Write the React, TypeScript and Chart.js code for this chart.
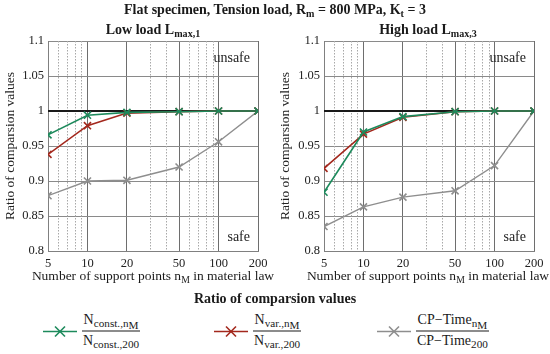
import React, { useEffect, useRef } from "react";
import { Chart, registerables } from "chart.js";

Chart.register(...registerables);

const xValues = [5, 10, 20, 50, 100, 200];
const xMinor = [6, 7, 8, 9, 30, 40, 60, 70, 80, 90];
const yTicks = [0.8, 0.85, 0.9, 0.95, 1, 1.05, 1.1];

const lowConst = [0.966, 0.994, 0.998, 0.999, 1.0, 1.0];
const lowVar = [0.938, 0.979, 0.997, 0.999, 1.0, 1.0];
const lowTime = [0.879, 0.9, 0.901, 0.92, 0.956, 1.0];

const highConst = [0.884, 0.97, 0.992, 0.999, 1.0, 1.0];
const highVar = [0.918, 0.967, 0.991, 0.999, 1.0, 1.0];
const highTime = [0.835, 0.863, 0.877, 0.886, 0.922, 1.0];

const GREEN = "#1d8a5c";
const RED = "#a3281d";
const GRAY = "#8e8e8e";
const FONT = "'Liberation Serif', serif";

const annotPlugin = {
  id: "annot",
  beforeDatasetsDraw(chart: any) {
    const { ctx, chartArea } = chart;
    const xs = chart.scales.x;
    ctx.save();
    ctx.strokeStyle = "#a8a8a8";
    ctx.lineWidth = 1;
    ctx.setLineDash([1.5, 1.5]);
    xMinor.forEach((v) => {
      const px = Math.round(xs.getPixelForValue(v)) + 0.5;
      ctx.beginPath();
      ctx.moveTo(px, chartArea.top);
      ctx.lineTo(px, chartArea.bottom);
      ctx.stroke();
    });
    ctx.setLineDash([]);
    const ys = chart.scales.y;
    const py = ys.getPixelForValue(1);
    ctx.strokeStyle = "#1a1a1a";
    ctx.lineWidth = 2;
    ctx.beginPath();
    ctx.moveTo(chartArea.left, py);
    ctx.lineTo(chartArea.right, py);
    ctx.stroke();
    ctx.restore();
  },
  afterDraw(chart: any) {
    const { ctx, chartArea } = chart;
    ctx.save();
    ctx.fillStyle = "#222";
    ctx.font = "14px " + FONT;
    ctx.textAlign = "right";
    ctx.textBaseline = "middle";
    ctx.fillText("unsafe", chartArea.right - 8, chartArea.top + 17);
    ctx.fillText("safe", chartArea.right - 8, chartArea.bottom - 14);
    ctx.restore();
  },
};

function Panel(props: { left: number; yw: number; data: number[][] }) {
  const ref = useRef<HTMLCanvasElement>(null);
  useEffect(() => {
    const [cData, vData, tData] = props.data;
    const mk = (arr: number[]) => arr.map((y, i) => ({ x: xValues[i], y }));
    const ds = (label: string, arr: number[], color: string, w: number) => ({
      label,
      data: mk(arr),
      borderColor: color,
      backgroundColor: color,
      borderWidth: w,
      pointStyle: "crossRot",
      pointRadius: 5,
      pointBorderWidth: 1.6,
      pointBorderColor: color,
      tension: 0,
      fill: false,
    });
    const chart = new Chart(ref.current as HTMLCanvasElement, {
      type: "line",
      data: {
        datasets: [
          ds("N const", cData, GREEN, 1.6),
          ds("N var", vData, RED, 1.6),
          ds("CP-Time", tData, GRAY, 1.4),
        ],
      },
      plugins: [annotPlugin],
      options: {
        animation: false,
        responsive: false,
        maintainAspectRatio: false,
        layout: { padding: { left: 0, top: 41, right: 275 - 258 - (props.yw - 48), bottom: 0 } },
        plugins: { legend: { display: false }, tooltip: { enabled: false } },
        scales: {
          x: {
            type: "logarithmic",
            min: 5,
            max: 200,
            afterBuildTicks: (s: any) => {
              s.ticks = [...xValues, ...xMinor]
                .sort((a, b) => a - b)
                .map((v) => ({ value: v }));
            },
            afterFit: (s: any) => {
              s.height = 21;
            },
            ticks: {
              autoSkip: false,
              maxRotation: 0,
              padding: 5,
              color: "#222",
              font: { family: FONT, size: 12.5 },
              callback: (v: any) => (xValues.includes(Number(v)) ? String(v) : ""),
            },
            grid: {
              drawTicks: false,
              color: (c: any) =>
                c.tick && xValues.includes(c.tick.value) ? "#6e6e6e" : "rgba(0,0,0,0)",
              lineWidth: 1,
            },
            border: { display: true, color: "#808080" },
          },
          y: {
            min: 0.8,
            max: 1.1,
            afterBuildTicks: (s: any) => {
              s.ticks = yTicks.map((v) => ({ value: v }));
            },
            afterFit: (s: any) => {
              s.width = props.yw;
            },
            title: {
              display: true,
              text: "Ratio of comparsion values",
              color: "#222",
              font: { family: FONT, size: 13.5 },
              padding: { top: 2, bottom: 0 },
            },
            ticks: {
              padding: 4,
              color: "#222",
              font: { family: FONT, size: 12.5 },
              callback: (v: any) => String(Number(Number(v).toFixed(2))),
            },
            grid: { drawTicks: false, color: "#8a8a8a", lineWidth: 1 },
            border: { display: true, color: "#808080" },
          },
        },
      } as any,
    });
    return () => chart.destroy();
  }, []);
  return (
    <canvas
      ref={ref}
      width={275}
      height={272}
      style={{ position: "absolute", left: props.left, top: 0, width: 275, height: 272 }}
    />
  );
}

const txt: React.CSSProperties = {
  position: "absolute",
  whiteSpace: "nowrap",
  transform: "translate(-50%, -50%)",
  fontFamily: FONT,
  color: "#1a1a1a",
  lineHeight: 1,
};
const subS: React.CSSProperties = { fontSize: "0.72em", verticalAlign: "-0.3em", lineHeight: 0 };
const subL: React.CSSProperties = { fontSize: "0.8em", verticalAlign: "-0.3em", lineHeight: 0 };
const subL2: React.CSSProperties = { fontSize: "1em", verticalAlign: "-0.25em", lineHeight: 0 };

function Marker({ color }: { color: string }) {
  return (
    <svg width={34} height={14} style={{ display: "block" }}>
      <line x1={0} y1={7} x2={34} y2={7} stroke={color} strokeWidth={1.6} />
      <line x1={12} y1={2} x2={22} y2={12} stroke={color} strokeWidth={1.6} />
      <line x1={22} y1={2} x2={12} y2={12} stroke={color} strokeWidth={1.6} />
    </svg>
  );
}

function Frac({ num, den }: { num: React.ReactNode; den: React.ReactNode }) {
  return (
    <div style={{ display: "inline-flex", flexDirection: "column", alignItems: "center", fontFamily: FONT, fontSize: 14, color: "#1a1a1a" }}>
      <div style={{ padding: "0 1px 4px 1px", lineHeight: 1 }}>{num}</div>
      <div style={{ alignSelf: "stretch", borderTop: "1px solid #1a1a1a" }} />
      <div style={{ padding: "2px 1px 2px 1px", lineHeight: 1 }}>{den}</div>
    </div>
  );
}

function LegendItem({ x, color, num, den }: { x: number; color: string; num: React.ReactNode; den: React.ReactNode }) {
  return (
    <div style={{ position: "absolute", left: x, top: 331, transform: "translateY(-50%)", display: "flex", alignItems: "center", gap: 5 }}>
      <Marker color={color} />
      <Frac num={num} den={den} />
    </div>
  );
}

export default function App() {
  return (
    <div style={{ position: "absolute", left: 0, top: 0, width: 550, height: 354, background: "#fff", overflow: "hidden" }}>
      <Panel left={0} yw={48} data={[lowConst, lowVar, lowTime]} />
      <Panel left={275} yw={49} data={[highConst, highVar, highTime]} />
      <div style={{ ...txt, left: 275, top: 10, fontWeight: "bold", fontSize: 14 }}>
        Flat specimen, Tension load, R<span style={subS}>m</span> = 800 MPa, K<span style={subS}>t</span> = 3
      </div>
      <div style={{ ...txt, left: 153, top: 30, fontWeight: "bold", fontSize: 14 }}>
        Low load L<span style={subS}>max,1</span>
      </div>
      <div style={{ ...txt, left: 428, top: 30, fontWeight: "bold", fontSize: 14 }}>
        High load L<span style={subS}>max,3</span>
      </div>
      <div style={{ ...txt, left: 153, top: 276, fontSize: 13.5 }}>
        Number of support points n<span style={subS}>M</span> in material law
      </div>
      <div style={{ ...txt, left: 428, top: 276, fontSize: 13.5 }}>
        Number of support points n<span style={subS}>M</span> in material law
      </div>
      <div style={{ ...txt, left: 275, top: 299, fontWeight: "bold", fontSize: 14 }}>
        Ratio of comparsion values
      </div>
      <LegendItem
        x={43}
        color={GREEN}
        num={<span>N<span style={subL}>const.,n<span style={subL2}>M</span></span></span>}
        den={<span>N<span style={subL}>const.,200</span></span>}
      />
      <LegendItem
        x={214}
        color={RED}
        num={<span>N<span style={subL}>var.,n<span style={subL2}>M</span></span></span>}
        den={<span>N<span style={subL}>var.,200</span></span>}
      />
      <LegendItem
        x={377}
        color={GRAY}
        num={<span>CP−Time<span style={subL}>n<span style={subL2}>M</span></span></span>}
        den={<span>CP−Time<span style={subL}>200</span></span>}
      />
    </div>
  );
}
